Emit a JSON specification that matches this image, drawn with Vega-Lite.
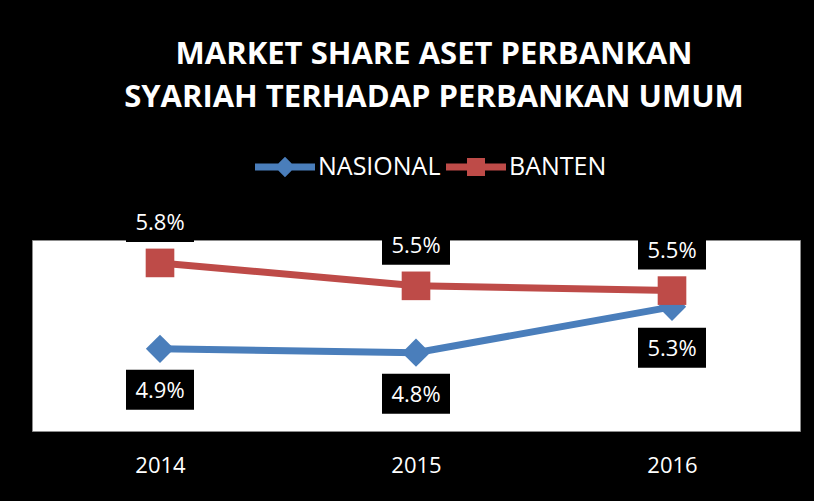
{
  "$schema": "https://vega.github.io/schema/vega-lite/v6.json",
  "width": 768,
  "height": 191,
  "autosize": {"type": "none"},
  "padding": {"left": 32, "top": 240, "right": 14, "bottom": 70},
  "background": "#000000",
  "title": {
    "text": ["MARKET SHARE ASET PERBANKAN", "SYARIAH TERHADAP PERBANKAN UMUM"],
    "font": "Open Sans",
    "fontSize": 31,
    "fontWeight": "bold",
    "color": "white",
    "anchor": "middle",
    "frame": "group",
    "dx": 18,
    "offset": -8,
    "baseline": "bottom",
    "lineHeight": 43
  },
  "data": {
    "values": [
      {"year": "2014", "series": "NASIONAL", "value": 0.0486},
      {"year": "2015", "series": "NASIONAL", "value": 0.0482},
      {"year": "2016", "series": "NASIONAL", "value": 0.0530},
      {"year": "2014", "series": "BANTEN", "value": 0.0576},
      {"year": "2015", "series": "BANTEN", "value": 0.0552},
      {"year": "2016", "series": "BANTEN", "value": 0.0547}
    ]
  },
  "encoding": {
    "x": {
      "field": "year",
      "type": "ordinal",
      "scale": {"type": "point", "padding": 0.5},
      "axis": {
        "title": null,
        "domain": false,
        "ticks": false,
        "grid": false,
        "labelAngle": 0,
        "labelColor": "white",
        "labelFont": "Open Sans",
        "labelFontSize": 22,
        "labelPadding": 24
      }
    },
    "y": {
      "field": "value",
      "type": "quantitative",
      "scale": {"domain": [0.04, 0.06]},
      "axis": null
    }
  },
  "layer": [
    {
      "mark": {"type": "line", "strokeWidth": 7},
      "encoding": {
        "color": {
          "field": "series",
          "type": "nominal",
          "scale": {"domain": ["NASIONAL", "BANTEN"], "range": ["#4A7EBB", "#BE4B48"]},
          "legend": {
            "orient": "none",
            "legendX": 223,
            "legendY": -103,
            "direction": "horizontal",
            "title": null,
            "padding": 0,
            "labelFont": "Open Sans",
            "labelFontSize": 25,
            "labelColor": "white",
            "labelOffset": 3,
            "columnPadding": 5,
            "symbolSize": 3600,
            "symbolStrokeWidth": 0,
            "encode": {
              "symbols": {
                "update": {
                  "shape": {"signal": "datum.value === 'NASIONAL' ? 'M-1,-0.12H1V0.12H-1Z M0,-0.34L0.34,0L0,0.34L-0.34,0Z' : 'M-1,-0.12H1V0.12H-1Z M-0.3,-0.3H0.3V0.3H-0.3Z'"},
                  "fill": {"signal": "datum.value === 'NASIONAL' ? '#4A7EBB' : '#BE4B48'"},
                  "fillOpacity": {"value": 1},
                  "strokeWidth": {"value": 0},
                  "opacity": {"value": 1}
                }
              }
            }
          }
        }
      }
    },
    {
      "transform": [{"filter": "datum.series === 'NASIONAL'"}],
      "mark": {"type": "point", "shape": "diamond", "filled": true, "opacity": 1, "size": 800, "strokeWidth": 0, "color": "#4A7EBB"}
    },
    {
      "transform": [{"filter": "datum.series === 'BANTEN'"}],
      "mark": {"type": "point", "shape": "square", "filled": true, "opacity": 1, "size": 820, "strokeWidth": 0, "color": "#BE4B48"}
    },
    {
      "transform": [{"filter": "datum.series === 'NASIONAL'"}],
      "mark": {"type": "point", "shape": "M-1.7,-1H1.7V1H-1.7Z", "size": 1600, "filled": true, "color": "black", "opacity": 1, "strokeWidth": 0, "yOffset": 41}
    },
    {
      "transform": [{"filter": "datum.series === 'BANTEN'"}],
      "mark": {"type": "point", "shape": "M-1.7,-1H1.7V1H-1.7Z", "size": 1600, "filled": true, "color": "black", "opacity": 1, "strokeWidth": 0, "yOffset": -41}
    },
    {
      "transform": [{"filter": "datum.series === 'NASIONAL'"}],
      "mark": {"type": "text", "color": "white", "font": "Open Sans", "fontSize": 22, "baseline": "middle", "dy": 42},
      "encoding": {"text": {"field": "value", "type": "quantitative", "format": ".1%"}}
    },
    {
      "transform": [{"filter": "datum.series === 'BANTEN'"}],
      "mark": {"type": "text", "color": "white", "font": "Open Sans", "fontSize": 22, "baseline": "middle", "dy": -40},
      "encoding": {"text": {"field": "value", "type": "quantitative", "format": ".1%"}}
    }
  ],
  "config": {
    "view": {"fill": "white", "stroke": "#8c8c8c", "strokeWidth": 1}
  }
}
